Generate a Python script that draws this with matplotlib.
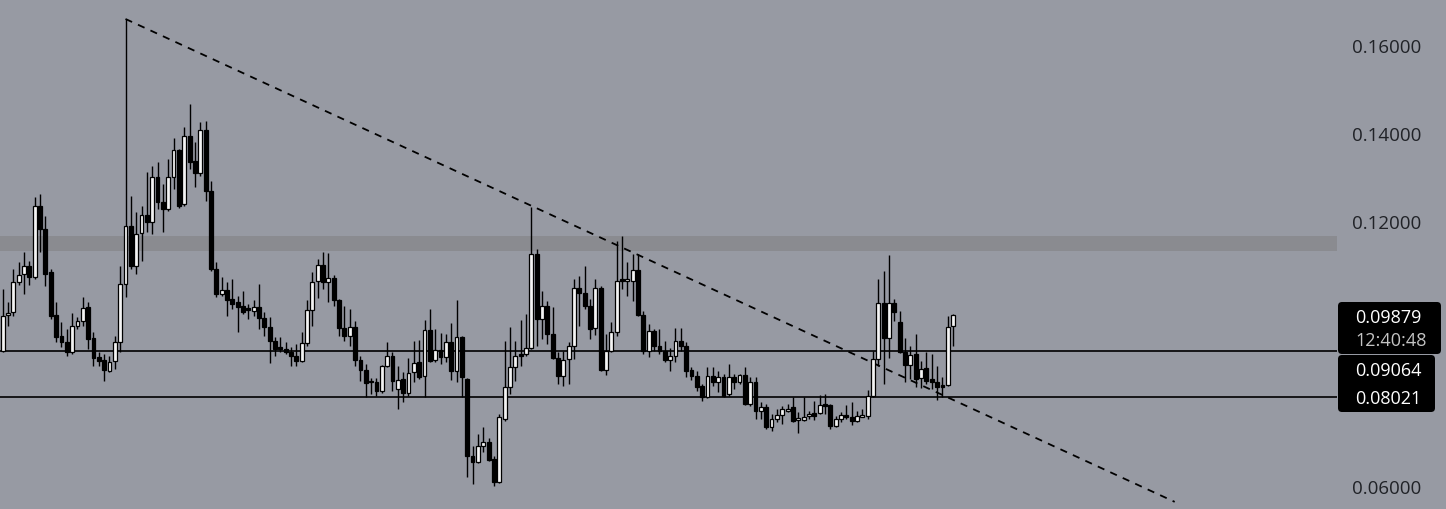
import matplotlib
matplotlib.use("Agg")
import matplotlib.pyplot as plt
from matplotlib.patches import Rectangle, FancyBboxPatch
from matplotlib.transforms import IdentityTransform
import numpy as np

plt.rcParams['font.family'] = ['Open Sans', 'DejaVu Sans']

# ---------------- data ----------------
opens = [
    0.0906, 0.0988, 0.0995, 0.1063, 0.1081, 0.1099, 0.1074, 0.1235, 0.1183, 0.1085,
    0.0988, 0.0940, 0.0927, 0.0904, 0.0963, 0.0974, 0.1006, 0.0936, 0.0893, 0.0886,
    0.0861, 0.0883, 0.0927, 0.1058, 0.1190, 0.1099, 0.1174, 0.1215, 0.1199, 0.1301,
    0.1244, 0.1228, 0.1301, 0.1362, 0.1239, 0.1394, 0.1337, 0.1310, 0.1407, 0.1269,
    0.1092, 0.1035, 0.1044, 0.1024, 0.1017, 0.1008, 0.1004, 0.0997, 0.1006, 0.0981,
    0.0961, 0.0929, 0.0913, 0.0911, 0.0904, 0.0895, 0.0883, 0.0924, 0.0999, 0.1065,
    0.1101, 0.1063, 0.1072, 0.1022, 0.0958, 0.0940, 0.0961, 0.0886, 0.0863, 0.0838,
    0.0836, 0.0815, 0.0872, 0.0895, 0.0820, 0.0843, 0.0811, 0.0859, 0.0881, 0.0849,
    0.0954, 0.0886, 0.0908, 0.0893, 0.0927, 0.0861, 0.0938, 0.0843, 0.0668, 0.0654,
    0.0691, 0.0700, 0.0661, 0.0609, 0.0752, 0.0825, 0.0870, 0.0899, 0.0899, 0.0913,
    0.1126, 0.0979, 0.1008, 0.0945, 0.0890, 0.0849, 0.0888, 0.0918, 0.1049, 0.1038,
    0.1008, 0.0958, 0.1049, 0.0863, 0.0906, 0.0949, 0.1067, 0.1066, 0.1065, 0.1090,
    0.0988, 0.0906, 0.0952, 0.0918, 0.0906, 0.0886, 0.0895, 0.0929, 0.0918, 0.0863,
    0.0849, 0.0827, 0.0802, 0.0849, 0.0836, 0.0847, 0.0809, 0.0847, 0.0836, 0.0852,
    0.0786, 0.0836, 0.0770, 0.0779, 0.0734, 0.0752, 0.0761, 0.0772, 0.0779, 0.0751,
    0.0750, 0.0760, 0.0766, 0.0766, 0.0786, 0.0784, 0.0736, 0.0752, 0.0759, 0.0756,
    0.0747, 0.0758, 0.0759, 0.0804, 0.0888, 0.1015, 0.0936, 0.1015, 0.0972, 0.0904,
    0.0874, 0.0899, 0.0845, 0.0868, 0.0843, 0.0836, 0.0827, 0.0829, 0.0963,
]
highs = [
    0.1047, 0.1017, 0.1092, 0.1108, 0.1131, 0.1110, 0.1255, 0.1262, 0.1212, 0.1092,
    0.1017, 0.0972, 0.0956, 0.0992, 0.0983, 0.1029, 0.1017, 0.0949, 0.0904, 0.0899,
    0.0895, 0.0940, 0.1099, 0.1659, 0.1258, 0.1221, 0.1235, 0.1312, 0.1326, 0.1335,
    0.1285, 0.1342, 0.1389, 0.1364, 0.1414, 0.1466, 0.1380, 0.1425, 0.1428, 0.1292,
    0.1108, 0.1074, 0.1063, 0.1069, 0.1031, 0.1042, 0.1013, 0.1022, 0.1058, 0.0995,
    0.0983, 0.0938, 0.0938, 0.0927, 0.0915, 0.0922, 0.0949, 0.1022, 0.1085, 0.1115,
    0.1131, 0.1128, 0.1079, 0.1024, 0.1008, 0.1001, 0.0974, 0.0895, 0.0877, 0.0845,
    0.0845, 0.0874, 0.0927, 0.0904, 0.0872, 0.0859, 0.0890, 0.0929, 0.0931, 0.0976,
    0.1001, 0.0956, 0.0947, 0.0945, 0.0970, 0.1022, 0.0940, 0.0845, 0.0691, 0.0718,
    0.0734, 0.0709, 0.0668, 0.0763, 0.0929, 0.0961, 0.0929, 0.0976, 0.0990, 0.1233,
    0.1137, 0.1042, 0.1020, 0.1006, 0.0904, 0.0906, 0.0927, 0.1069, 0.1076, 0.1099,
    0.1024, 0.1069, 0.1054, 0.0945, 0.0972, 0.1156, 0.1167, 0.1108, 0.1126, 0.1126,
    0.0997, 0.0967, 0.0956, 0.0956, 0.0929, 0.0913, 0.0958, 0.0958, 0.0927, 0.0870,
    0.0861, 0.0831, 0.0870, 0.0870, 0.0861, 0.0854, 0.0877, 0.0854, 0.0854, 0.0870,
    0.0847, 0.0847, 0.0791, 0.0786, 0.0763, 0.0775, 0.0781, 0.0786, 0.0802, 0.0768,
    0.0802, 0.0770, 0.0793, 0.0806, 0.0809, 0.0786, 0.0759, 0.0768, 0.0784, 0.0791,
    0.0770, 0.0775, 0.0818, 0.0906, 0.1069, 0.1088, 0.1124, 0.1024, 0.0997, 0.0936,
    0.0918, 0.0945, 0.0883, 0.0904, 0.0899, 0.0872, 0.0847, 0.0986, 0.0989,
]
lows = [
    0.0904, 0.0963, 0.0986, 0.1056, 0.1035, 0.1056, 0.1069, 0.1131, 0.1054, 0.0979,
    0.0927, 0.0915, 0.0895, 0.0899, 0.0956, 0.0963, 0.0911, 0.0872, 0.0872, 0.0838,
    0.0859, 0.0865, 0.0904, 0.1029, 0.1092, 0.1081, 0.1110, 0.1176, 0.1171, 0.1228,
    0.1176, 0.1224, 0.1274, 0.1230, 0.1235, 0.1319, 0.1278, 0.1303, 0.1246, 0.1088,
    0.1029, 0.1031, 0.0986, 0.1001, 0.0949, 0.0990, 0.0979, 0.0986, 0.0956, 0.0940,
    0.0879, 0.0895, 0.0904, 0.0899, 0.0872, 0.0872, 0.0881, 0.0918, 0.0963, 0.1026,
    0.1047, 0.1017, 0.1008, 0.0940, 0.0929, 0.0918, 0.0872, 0.0838, 0.0802, 0.0809,
    0.0804, 0.0811, 0.0870, 0.0815, 0.0775, 0.0791, 0.0804, 0.0836, 0.0843, 0.0802,
    0.0881, 0.0881, 0.0877, 0.0881, 0.0840, 0.0836, 0.0802, 0.0620, 0.0605, 0.0652,
    0.0677, 0.0657, 0.0600, 0.0607, 0.0747, 0.0809, 0.0838, 0.0872, 0.0895, 0.0911,
    0.0918, 0.0933, 0.0922, 0.0888, 0.0831, 0.0827, 0.0831, 0.0888, 0.0963, 0.1001,
    0.0933, 0.0942, 0.0861, 0.0852, 0.0904, 0.0940, 0.1047, 0.1031, 0.1020, 0.0986,
    0.0899, 0.0893, 0.0906, 0.0899, 0.0881, 0.0861, 0.0881, 0.0906, 0.0847, 0.0840,
    0.0815, 0.0793, 0.0800, 0.0827, 0.0813, 0.0802, 0.0804, 0.0820, 0.0831, 0.0784,
    0.0781, 0.0752, 0.0752, 0.0729, 0.0725, 0.0745, 0.0741, 0.0768, 0.0745, 0.0720,
    0.0747, 0.0752, 0.0750, 0.0763, 0.0763, 0.0729, 0.0734, 0.0745, 0.0752, 0.0738,
    0.0745, 0.0756, 0.0752, 0.0802, 0.0872, 0.0831, 0.0890, 0.0974, 0.0902, 0.0836,
    0.0843, 0.0825, 0.0822, 0.0831, 0.0820, 0.0795, 0.0802, 0.0827, 0.0918,
]
closes = [
    0.0986, 0.0992, 0.1063, 0.1079, 0.1099, 0.1074, 0.1235, 0.1183, 0.1081, 0.0986,
    0.0938, 0.0927, 0.0904, 0.0963, 0.0974, 0.1004, 0.0933, 0.0890, 0.0883, 0.0863,
    0.0881, 0.0927, 0.1058, 0.1190, 0.1099, 0.1171, 0.1215, 0.1199, 0.1301, 0.1244,
    0.1228, 0.1301, 0.1362, 0.1235, 0.1394, 0.1335, 0.1310, 0.1407, 0.1269, 0.1092,
    0.1035, 0.1044, 0.1022, 0.1013, 0.1006, 0.0995, 0.0999, 0.1006, 0.0981, 0.0961,
    0.0929, 0.0911, 0.0912, 0.0904, 0.0895, 0.0883, 0.0924, 0.0999, 0.1063, 0.1101,
    0.1063, 0.1072, 0.1022, 0.0958, 0.0940, 0.0961, 0.0886, 0.0863, 0.0834, 0.0836,
    0.0815, 0.0872, 0.0895, 0.0838, 0.0840, 0.0811, 0.0856, 0.0879, 0.0847, 0.0954,
    0.0883, 0.0908, 0.0893, 0.0927, 0.0861, 0.0938, 0.0847, 0.0668, 0.0654, 0.0691,
    0.0700, 0.0659, 0.0609, 0.0756, 0.0825, 0.0870, 0.0895, 0.0895, 0.0913, 0.1126,
    0.0979, 0.1008, 0.0945, 0.0890, 0.0849, 0.0886, 0.0918, 0.1049, 0.1038, 0.1008,
    0.0956, 0.1049, 0.0863, 0.0906, 0.0949, 0.1065, 0.1066, 0.1067, 0.1090, 0.0988,
    0.0906, 0.0952, 0.0918, 0.0906, 0.0886, 0.0895, 0.0929, 0.0918, 0.0861, 0.0849,
    0.0825, 0.0802, 0.0849, 0.0836, 0.0847, 0.0804, 0.0847, 0.0836, 0.0852, 0.0786,
    0.0836, 0.0770, 0.0779, 0.0734, 0.0752, 0.0761, 0.0775, 0.0773, 0.0747, 0.0752,
    0.0756, 0.0761, 0.0759, 0.0784, 0.0781, 0.0736, 0.0752, 0.0761, 0.0758, 0.0747,
    0.0759, 0.0759, 0.0804, 0.0888, 0.1015, 0.0936, 0.1015, 0.0995, 0.0904, 0.0874,
    0.0897, 0.0843, 0.0865, 0.0838, 0.0836, 0.0825, 0.0826, 0.0961, 0.09879,
]

support_levels = [0.09064, 0.08021]
zone = [0.1133, 0.1168]
trend_x = [23, 219.5]
trend_y = [0.1659, 0.0564]
y_ticks = [0.06, 0.12, 0.14, 0.16]
y_tick_labels = ["0.06000", "0.12000", "0.14000", "0.16000"]
last_price_label = "0.09879"
countdown_label = "12:40:48"
level_labels = ["0.09064", "0.08021"]

# ---------------- figure ----------------
W, H = 1446, 510
BG = "#979aa3"
fig = plt.figure(figsize=(W / 100, H / 100), dpi=100, facecolor=BG)
ax = fig.add_axes([0, 0, 1337 / W, 1])
ax.set_facecolor(BG)
for s in ax.spines.values():
    s.set_visible(False)

x = np.arange(len(opens))
ax.set_xlim(-0.506, 249.9)
ax.set_ylim(0.05478, 0.17043)

ax.axhspan(zone[0], zone[1], color="#8a8b90", lw=0, zorder=0)
for lv in support_levels:
    ax.axhline(lv, color="black", lw=1.2, zorder=1)
ax.plot(trend_x, trend_y, color="black", lw=1.3, ls=(0, (4, 3.6)), zorder=2)

ax.vlines(x, lows, highs, color="black", lw=1.0, zorder=3)
bw = 0.72
min_h = 0.00035
for i in range(len(opens)):
    o, c = opens[i], closes[i]
    lo = min(o, c)
    h = max(abs(c - o), min_h)
    if abs(c - o) < min_h:
        lo = (o + c) / 2 - min_h / 2
    up = c >= o
    ax.add_patch(Rectangle((x[i] - bw / 2, lo), bw, h,
                           facecolor="#f4f4f4" if up else "black",
                           edgecolor="black", lw=0.9, zorder=4))

ax.set_xticks([])
ax.yaxis.tick_right()
ax.set_yticks(y_ticks)
ax.set_yticklabels(y_tick_labels)
ax.tick_params(axis="y", length=0, pad=11, labelsize=13.5, labelcolor="#202227")

# price label boxes (pixel coordinates)
ident = IdentityTransform()
box1 = FancyBboxPatch((1338, 155), 103, 52, boxstyle="round,pad=0,rounding_size=4",
                      transform=ident, facecolor="black", edgecolor="none")
box2 = FancyBboxPatch((1338, 97), 97, 57, boxstyle="round,pad=0,rounding_size=4",
                      transform=ident, facecolor="black", edgecolor="none")
fig.add_artist(box1)
fig.add_artist(box2)
fig.text(1355 / W, 192 / H, last_price_label, color="white", fontsize=13,
         va="center", ha="left")
fig.text(1355 / W, 169 / H, countdown_label, color="#c4c4c4", fontsize=13,
         va="center", ha="left")
fig.text(1355 / W, 139 / H, level_labels[0], color="white", fontsize=13,
         va="center", ha="left")
fig.text(1355 / W, 111 / H, level_labels[1], color="white", fontsize=13,
         va="center", ha="left")

fig.savefig("out.png", dpi=100, facecolor=BG)
